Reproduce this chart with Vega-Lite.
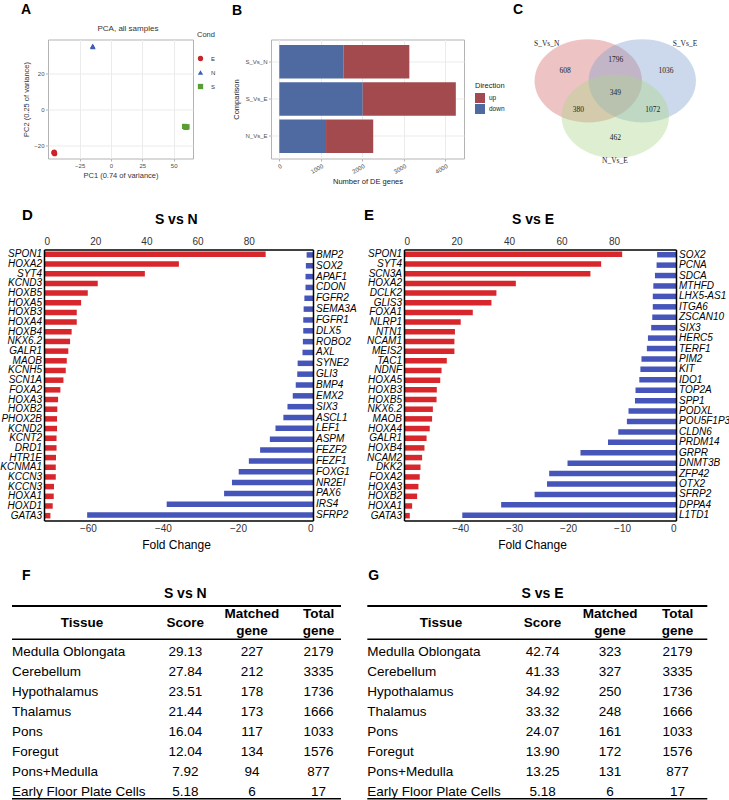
{
"$schema": "https://vega.github.io/schema/vega-lite/v6.json",
"background": "white",
"padding": {"left": 0, "top": 1.5, "right": 0, "bottom": 0},
"config": {"view": {"stroke": null}, "font": "Liberation Sans", "title": {"font": "Liberation Sans"}},
"datasets": {
 "pca": [
  {"sample":"E1","Cond":"E","PC1":-45.6,"PC2":-24.2},
  {"sample":"E2","Cond":"E","PC1":-45.0,"PC2":-24.7},
  {"sample":"E3","Cond":"E","PC1":-45.3,"PC2":-23.9},
  {"sample":"N1","Cond":"N","PC1":-14.7,"PC2":34.9},
  {"sample":"N2","Cond":"N","PC1":-14.4,"PC2":34.6},
  {"sample":"N3","Cond":"N","PC1":-14.6,"PC2":35.1},
  {"sample":"S1","Cond":"S","PC1":58.7,"PC2":-9.6},
  {"sample":"S2","Cond":"S","PC1":59.8,"PC2":-10.1},
  {"sample":"S3","Cond":"S","PC1":60.6,"PC2":-9.8}
 ],
 "de": [
  {"comparison":"S_Vs_N","direction":"down","count":1542},
  {"comparison":"S_Vs_N","direction":"up","count":1591},
  {"comparison":"S_Vs_E","direction":"down","count":2010},
  {"comparison":"S_Vs_E","direction":"up","count":2243},
  {"comparison":"N_Vs_E","direction":"down","count":1126},
  {"comparison":"N_Vs_E","direction":"up","count":1137}
 ],
 "venn_sets": [
  {"set":"S_Vs_N","cx":0,"cy":0,"lx":-0.77,"ly":0.685},
  {"set":"S_Vs_E","cx":1,"cy":0,"lx":1.791,"ly":0.685},
  {"set":"N_Vs_E","cx":0.5,"cy":-0.661,"lx":0.494,"ly":-1.494}
 ],
 "venn_regions": [
  {"region":"S_Vs_N only","count":608,"x":-0.431,"y":0.185},
  {"region":"S_Vs_N & S_Vs_E","count":1796,"x":0.507,"y":0.389},
  {"region":"S_Vs_E only","count":1036,"x":1.439,"y":0.185},
  {"region":"all three","count":349,"x":0.5,"y":-0.217},
  {"region":"S_Vs_N & N_Vs_E","count":380,"x":-0.185,"y":-0.537},
  {"region":"S_Vs_E & N_Vs_E","count":1072,"x":1.193,"y":-0.537},
  {"region":"N_Vs_E only","count":462,"x":0.5,"y":-1.063}
 ],
 "d_up": [
  {"rank":1,"gene":"SPON1","fc":86.6},{"rank":2,"gene":"HOXA2","fc":52.7},{"rank":3,"gene":"SYT4","fc":39.4},
  {"rank":4,"gene":"KCND3","fc":21.0},{"rank":5,"gene":"HOXB5","fc":17.1},{"rank":6,"gene":"HOXA5","fc":14.5},
  {"rank":7,"gene":"HOXB3","fc":12.8},{"rank":8,"gene":"HOXA4","fc":12.8},{"rank":9,"gene":"HOXB4","fc":10.8},
  {"rank":10,"gene":"NKX6.2","fc":10.2},{"rank":11,"gene":"GALR1","fc":9.5},{"rank":12,"gene":"MAOB","fc":8.9},
  {"rank":13,"gene":"KCNH5","fc":8.5},{"rank":14,"gene":"SCN1A","fc":7.6},{"rank":15,"gene":"FOXA2","fc":6.4},
  {"rank":16,"gene":"HOXA3","fc":5.5},{"rank":17,"gene":"HOXB2","fc":5.2},{"rank":18,"gene":"PHOX2B","fc":5.1},
  {"rank":19,"gene":"KCND2","fc":5.1},{"rank":20,"gene":"KCNT2","fc":4.9},{"rank":21,"gene":"DRD1","fc":4.9},
  {"rank":22,"gene":"HTR1E","fc":4.7},{"rank":23,"gene":"KCNMA1","fc":4.6},{"rank":24,"gene":"KCCN3","fc":4.6},
  {"rank":25,"gene":"KCCN3","fc":3.9},{"rank":26,"gene":"HOXA1","fc":3.8},{"rank":27,"gene":"HOXD1","fc":3.4},
  {"rank":28,"gene":"GATA3","fc":2.5}
 ],
 "d_down": [
  {"rank":1,"gene":"BMP2","fc":-1.7},{"rank":2,"gene":"SOX2","fc":-1.9},{"rank":3,"gene":"APAF1","fc":-2.0},
  {"rank":4,"gene":"CDON","fc":-2.0},{"rank":5,"gene":"FGFR2","fc":-2.3},{"rank":6,"gene":"SEMA3A","fc":-2.5},
  {"rank":7,"gene":"FGFR1","fc":-2.6},{"rank":8,"gene":"DLX5","fc":-2.6},{"rank":9,"gene":"ROBO2","fc":-2.7},
  {"rank":10,"gene":"AXL","fc":-2.8},{"rank":11,"gene":"SYNE2","fc":-4.1},{"rank":12,"gene":"GLI3","fc":-4.2},
  {"rank":13,"gene":"BMP4","fc":-4.6},{"rank":14,"gene":"EMX2","fc":-5.4},{"rank":15,"gene":"SIX3","fc":-6.8},
  {"rank":16,"gene":"ASCL1","fc":-7.9},{"rank":17,"gene":"LEF1","fc":-10.0},{"rank":18,"gene":"ASPM","fc":-11.5},
  {"rank":19,"gene":"FEZF2","fc":-14.1},{"rank":20,"gene":"FEZF1","fc":-17.1},{"rank":21,"gene":"FOXG1","fc":-19.8},
  {"rank":22,"gene":"NR2EI","fc":-21.6},{"rank":23,"gene":"PAX6","fc":-23.7},{"rank":24,"gene":"IRS4","fc":-39.0},
  {"rank":25,"gene":"SFRP2","fc":-60.2}
 ],
 "e_up": [
  {"rank":1,"gene":"SPON1","fc":83.1},{"rank":2,"gene":"SYT4","fc":75.1},{"rank":3,"gene":"SCN3A","fc":71.0},
  {"rank":4,"gene":"HOXA2","fc":42.6},{"rank":5,"gene":"DCLK2","fc":35.2},{"rank":6,"gene":"GLIS3","fc":33.3},
  {"rank":7,"gene":"FOXA1","fc":26.2},{"rank":8,"gene":"NLRP1","fc":21.6},{"rank":9,"gene":"NTN1","fc":19.4},
  {"rank":10,"gene":"NCAM1","fc":19.2},{"rank":11,"gene":"MEIS2","fc":19.2},{"rank":12,"gene":"TAC1","fc":16.3},
  {"rank":13,"gene":"NDNF","fc":14.3},{"rank":14,"gene":"HOXA5","fc":13.8},{"rank":15,"gene":"HOXB3","fc":12.5},
  {"rank":16,"gene":"HOXB5","fc":12.4},{"rank":17,"gene":"NKX6.2","fc":11.0},{"rank":18,"gene":"MAOB","fc":10.7},
  {"rank":19,"gene":"HOXA4","fc":9.8},{"rank":20,"gene":"GALR1","fc":8.6},{"rank":21,"gene":"HOXB4","fc":7.8},
  {"rank":22,"gene":"NCAM2","fc":6.9},{"rank":23,"gene":"DKK2","fc":6.3},{"rank":24,"gene":"FOXA2","fc":6.0},
  {"rank":25,"gene":"HOXA3","fc":5.5},{"rank":26,"gene":"HOXB2","fc":5.0},{"rank":27,"gene":"HOXA1","fc":3.1},
  {"rank":28,"gene":"GATA3","fc":2.2}
 ],
 "e_down": [
  {"rank":1,"gene":"SOX2","fc":-3.5},{"rank":2,"gene":"PCNA","fc":-3.6},{"rank":3,"gene":"SDCA","fc":-3.9},
  {"rank":4,"gene":"MTHFD","fc":-4.2},{"rank":5,"gene":"LHX5-AS1","fc":-4.3},{"rank":6,"gene":"ITGA6","fc":-4.3},
  {"rank":7,"gene":"ZSCAN10","fc":-4.4},{"rank":8,"gene":"SIX3","fc":-4.6},{"rank":9,"gene":"HERC5","fc":-5.2},
  {"rank":10,"gene":"TERF1","fc":-5.4},{"rank":11,"gene":"PIM2","fc":-6.4},{"rank":12,"gene":"KIT","fc":-6.6},
  {"rank":13,"gene":"IDO1","fc":-6.8},{"rank":14,"gene":"TOP2A","fc":-7.5},{"rank":15,"gene":"SPP1","fc":-7.6},
  {"rank":16,"gene":"PODXL","fc":-8.8},{"rank":17,"gene":"POU5F1P3","fc":-9.1},{"rank":18,"gene":"CLDN6","fc":-10.7},
  {"rank":19,"gene":"PRDM14","fc":-12.6},{"rank":20,"gene":"GRPR","fc":-17.7},{"rank":21,"gene":"DNMT3B","fc":-20.1},
  {"rank":22,"gene":"ZFP42","fc":-23.5},{"rank":23,"gene":"OTX2","fc":-23.9},{"rank":24,"gene":"SFRP2","fc":-26.2},
  {"rank":25,"gene":"DPPA4","fc":-32.4},{"rank":26,"gene":"L1TD1","fc":-39.6}
 ],
 "f_tab": [
  {"rank":0,"tissue":"Medulla Oblongata","score":29.13,"matched":227,"total":2179},
  {"rank":1,"tissue":"Cerebellum","score":27.84,"matched":212,"total":3335},
  {"rank":2,"tissue":"Hypothalamus","score":23.51,"matched":178,"total":1736},
  {"rank":3,"tissue":"Thalamus","score":21.44,"matched":173,"total":1666},
  {"rank":4,"tissue":"Pons","score":16.04,"matched":117,"total":1033},
  {"rank":5,"tissue":"Foregut","score":12.04,"matched":134,"total":1576},
  {"rank":6,"tissue":"Pons+Medulla","score":7.92,"matched":94,"total":877},
  {"rank":7,"tissue":"Early Floor Plate Cells","score":5.18,"matched":6,"total":17}
 ],
 "g_tab": [
  {"rank":0,"tissue":"Medulla Oblongata","score":42.74,"matched":323,"total":2179},
  {"rank":1,"tissue":"Cerebellum","score":41.33,"matched":327,"total":3335},
  {"rank":2,"tissue":"Hypothalamus","score":34.92,"matched":250,"total":1736},
  {"rank":3,"tissue":"Thalamus","score":33.32,"matched":248,"total":1666},
  {"rank":4,"tissue":"Pons","score":24.07,"matched":161,"total":1033},
  {"rank":5,"tissue":"Foregut","score":13.90,"matched":172,"total":1576},
  {"rank":6,"tissue":"Pons+Medulla","score":13.25,"matched":131,"total":877},
  {"rank":7,"tissue":"Early Floor Plate Cells","score":5.18,"matched":6,"total":17}
 ],
 "headers2": [
  {"col":"Matched","label":"Matched gene"},
  {"col":"Total","label":"Total gene"}
 ]
},
"spacing": 22,
"resolve": {"scale": {"color": "independent", "shape": "independent"}, "legend": {"color": "independent", "shape": "independent"}},
"vconcat": [
 {
  "spacing": 0, "bounds": "flush",
  "resolve": {"scale": {"color": "independent", "shape": "independent"}, "legend": {"color": "independent", "shape": "independent"}},
  "hconcat": [
   {"width": 48, "height": 10, "data": {"values": []}, "mark": "point", "encoding": {}},
   {
    "spacing": 78, "bounds": "flush",
    "resolve": {"scale": {"color": "independent", "shape": "independent"}, "legend": {"color": "independent", "shape": "independent"}},
    "hconcat": [
     {
      "width": 145, "height": 119,
      "view": {"stroke": "#b3b3b3", "strokeWidth": 1},
      "layer": [
       {
        "data": {"name": "pca"},
        "mark": {"type": "point", "filled": true, "size": 28, "opacity": 1},
        "encoding": {
         "x": {"field": "PC1", "type": "quantitative", "scale": {"domain": [-50.3, 65.4], "nice": false, "zero": false},
               "axis": {"values": [-25, 0, 25, 50], "title": "PC1 (0.74 of variance)", "grid": true, "gridColor": "#ebebeb", "domain": false, "tickColor": "#b3b3b3", "tickSize": 2.5, "labelFontSize": 6, "labelColor": "#4d4d4d", "labelPadding": 1.5, "titleFontSize": 7.5, "titleFontWeight": "normal", "titleColor": "#333333", "titlePadding": 3}},
         "y": {"field": "PC2", "type": "quantitative", "scale": {"domain": [-27.4, 38.7], "nice": false, "zero": false},
               "axis": {"values": [-20, 0, 20], "title": "PC2 (0.25 of variance)", "grid": true, "gridColor": "#ebebeb", "domain": false, "tickColor": "#b3b3b3", "tickSize": 2.5, "labelFontSize": 6, "labelColor": "#4d4d4d", "labelPadding": 1.5, "titleFontSize": 7.5, "titleFontWeight": "normal", "titleColor": "#333333", "titlePadding": 3}},
         "color": {"field": "Cond", "type": "nominal", "scale": {"domain": ["E", "N", "S"], "range": ["#cc2229", "#3d5fb4", "#5a9e33"]},
                   "legend": {"orient": "none", "legendX": 149, "legendY": -9, "title": "Cond", "titleFontSize": 7.5, "titleFontWeight": "normal", "titleColor": "#333333", "labelFontSize": 6, "labelColor": "#333333", "symbolSize": 28, "rowPadding": 7, "titlePadding": 17, "labelOffset": 7}},
         "shape": {"field": "Cond", "type": "nominal", "scale": {"domain": ["E", "N", "S"], "range": ["circle", "triangle-up", "square"]},
                   "legend": {"orient": "none", "legendX": 149, "legendY": -9, "title": "Cond", "titleFontSize": 7.5, "titleFontWeight": "normal", "titleColor": "#333333", "labelFontSize": 6, "labelColor": "#333333", "symbolSize": 28, "rowPadding": 7, "titlePadding": 17, "labelOffset": 7}}
        }
       },
       {
        "data": {"values": [{"label": "PCA, all samples"}]},
        "mark": {"type": "text", "fontSize": 8, "color": "#333333"},
        "encoding": {"x": {"datum": 13.5, "type": "quantitative"}, "y": {"datum": 44.8, "type": "quantitative"}, "text": {"field": "label"}}
       },
       {
        "data": {"values": [{"label": "A"}]},
        "mark": {"type": "text", "fontSize": 14, "fontWeight": "bold", "color": "black"},
        "encoding": {"x": {"datum": -67.8, "type": "quantitative"}, "y": {"datum": 55.1, "type": "quantitative"}, "text": {"field": "label"}}
       }
      ]
     },
     {
      "width": 193, "height": 119,
      "view": {"stroke": "#b3b3b3", "strokeWidth": 1},
      "title": {"text": "B", "anchor": "start", "frame": "group", "dx": -39, "fontSize": 14, "fontWeight": "bold", "color": "black", "offset": 21.3},
      "data": {"name": "de"},
      "mark": {"type": "bar"},
      "encoding": {
       "y": {"field": "comparison", "type": "nominal", "sort": ["S_Vs_N", "S_Vs_E", "N_Vs_E"], "scale": {"paddingInner": 0.1, "paddingOuter": 0.15},
             "axis": {"title": "Comparison", "grid": true, "gridColor": "#ebebeb", "bandPosition": 0.5, "domain": false, "tickColor": "#b3b3b3", "tickSize": 2.5, "labelFontSize": 6, "labelColor": "#4d4d4d", "labelPadding": 1.5, "titleFontSize": 7.5, "titleFontWeight": "normal", "titleColor": "#222222", "titlePadding": 4}},
       "x": {"field": "count", "type": "quantitative", "stack": "zero", "scale": {"domain": [-200, 4450], "nice": false},
             "axis": {"values": [0, 1000, 2000, 3000, 4000], "format": "d", "labelAngle": -30, "title": "Number of DE genes", "grid": true, "gridColor": "#ebebeb", "domain": false, "tickColor": "#b3b3b3", "tickSize": 2.5, "labelFontSize": 6, "labelColor": "#4d4d4d", "labelPadding": 1.5, "titleFontSize": 7.5, "titleFontWeight": "normal", "titleColor": "#222222", "titlePadding": 3}},
       "color": {"field": "direction", "type": "nominal", "scale": {"domain": ["up", "down"], "range": ["#a34a4e", "#4f6aa1"]},
                 "legend": {"orient": "none", "legendX": 204, "legendY": 42, "title": "Direction", "symbolType": "square", "symbolSize": 100, "symbolStrokeWidth": 0, "rowPadding": 1, "titlePadding": 4, "labelFontSize": 6.5, "labelColor": "#222222", "titleFontSize": 7.5, "titleFontWeight": "normal", "titleColor": "#222222"}},
       "order": {"field": "direction", "sort": "ascending"}
      }
     },
     {
      "width": 187, "height": 119,
      "layer": [
       {
        "data": {"name": "venn_sets"},
        "mark": {"type": "point", "shape": "M-1,0C-1,-0.4286,-0.5523,-0.776,0,-0.776C0.5523,-0.776,1,-0.4286,1,0C1,0.4286,0.5523,0.776,0,0.776C-0.5523,0.776,-1,0.4286,-1,0Z", "size": 11535, "filled": true, "fillOpacity": 0.4, "strokeWidth": 0},
        "encoding": {
         "x": {"field": "cx", "type": "quantitative", "scale": {"domain": [-0.857, 2.606], "nice": false, "zero": false}, "axis": null},
         "y": {"field": "cy", "type": "quantitative", "scale": {"domain": [-1.439, 0.765], "nice": false, "zero": false}, "axis": null},
         "color": {"field": "set", "type": "nominal", "scale": {"domain": ["S_Vs_N", "S_Vs_E", "N_Vs_E"], "range": ["#d46a6a", "#7f9fd0", "#a9d68a"]}, "legend": null}
        }
       },
       {
        "data": {"name": "venn_sets"},
        "mark": {"type": "text", "font": "Liberation Serif", "fontSize": 7.5, "color": "#222222"},
        "encoding": {"x": {"field": "lx", "type": "quantitative"}, "y": {"field": "ly", "type": "quantitative"}, "text": {"field": "set"}}
       },
       {
        "data": {"name": "venn_regions"},
        "mark": {"type": "text", "font": "Liberation Serif", "fontSize": 7.5, "color": "#222222"},
        "encoding": {"x": {"field": "x", "type": "quantitative"}, "y": {"field": "y", "type": "quantitative"}, "text": {"field": "count"}}
       },
       {
        "data": {"values": [{"label": "C"}]},
        "mark": {"type": "text", "fontSize": 14, "fontWeight": "bold", "color": "black"},
        "encoding": {"x": {"datum": -1.302, "type": "quantitative"}, "y": {"datum": 1.311, "type": "quantitative"}, "text": {"field": "label"}}
       }
      ]
     }
    ]
   }
  ]
 },
 {
  "spacing": 17.5,
  "vconcat": [
   {
    "spacing": 0, "bounds": "flush",
    "hconcat": [
     {"width": 44, "height": 10, "data": {"values": []}, "mark": "point", "encoding": {}},
     {
      "spacing": 91, "bounds": "flush",
      "hconcat": [
       {
        "width": 269, "height": 271,
        "title": {"text": "D", "anchor": "start", "frame": "group", "dx": -22, "dy": 14, "fontSize": 15, "fontWeight": "bold", "color": "black"},
        "layer": [
         {
          "data": {"name": "d_up"},
          "layer": [
           {
            "mark": {"type": "bar", "size": 5.5, "color": "#d7262c"},
            "encoding": {
             "x": {"field": "fc", "type": "quantitative", "scale": {"domain": [0, 105.1], "nice": false},
                   "axis": {"orient": "top", "values": [0, 20, 40, 60, 80], "title": "S vs N", "titleX": 131.8, "titleFontSize": 14, "titleFontWeight": "bold", "titleColor": "black", "titlePadding": 10, "grid": false, "ticks": false, "domainColor": "black", "domainWidth": 1.5, "labelFontSize": 10, "labelColor": "#333333", "labelPadding": 3, "zindex": 1}},
             "y": {"field": "rank", "type": "ordinal", "scale": {"paddingInner": 0, "paddingOuter": 0},
                   "axis": {"orient": "left", "labels": false, "ticks": false, "title": null, "grid": false, "domainColor": "black", "domainWidth": 1.5, "zindex": 1}}
            }
           },
           {
            "mark": {"type": "text", "align": "right", "dx": -2, "fontStyle": "italic", "fontSize": 10, "color": "black"},
            "encoding": {"x": {"datum": 0, "type": "quantitative"}, "y": {"field": "rank", "type": "ordinal"}, "text": {"field": "gene"}}
           }
          ]
         },
         {
          "data": {"name": "d_down"},
          "layer": [
           {
            "mark": {"type": "bar", "size": 5.5, "color": "#4655b9"},
            "encoding": {
             "x": {"field": "fc", "type": "quantitative", "scale": {"domain": [-71.7, 0], "nice": false},
                   "axis": {"orient": "bottom", "values": [-60, -40, -20, 0], "title": "Fold Change", "titleX": 132, "titleFontSize": 12, "titleFontWeight": "normal", "titleColor": "black", "titlePadding": 6, "grid": false, "ticks": false, "domainColor": "black", "domainWidth": 1.5, "labelFontSize": 10, "labelColor": "#333333", "labelPadding": 3, "zindex": 1}},
             "y": {"field": "rank", "type": "ordinal", "scale": {"paddingInner": 0, "paddingOuter": 0},
                   "axis": {"orient": "right", "labels": false, "ticks": false, "title": null, "grid": false, "domainColor": "black", "domainWidth": 1.5, "zindex": 1}}
            }
           },
           {
            "mark": {"type": "text", "align": "left", "dx": 3, "fontStyle": "italic", "fontSize": 10, "color": "black"},
            "encoding": {"x": {"datum": 0, "type": "quantitative"}, "y": {"field": "rank", "type": "ordinal"}, "text": {"field": "gene"}}
           }
          ]
         }
        ],
        "resolve": {"scale": {"x": "independent", "y": "independent"}}
       },
       {
        "width": 272, "height": 271,
        "title": {"text": "E", "anchor": "start", "frame": "group", "dx": -40, "dy": 14, "fontSize": 15, "fontWeight": "bold", "color": "black"},
        "layer": [
         {
          "data": {"name": "e_up"},
          "layer": [
           {
            "mark": {"type": "bar", "size": 5.5, "color": "#d7262c"},
            "encoding": {
             "x": {"field": "fc", "type": "quantitative", "scale": {"domain": [0, 103.6], "nice": false},
                   "axis": {"orient": "top", "values": [0, 20, 40, 60, 80], "title": "S vs E", "titleX": 128.5, "titleFontSize": 14, "titleFontWeight": "bold", "titleColor": "black", "titlePadding": 10, "grid": false, "ticks": false, "domainColor": "black", "domainWidth": 1.5, "labelFontSize": 10, "labelColor": "#333333", "labelPadding": 3, "zindex": 1}},
             "y": {"field": "rank", "type": "ordinal", "scale": {"paddingInner": 0, "paddingOuter": 0},
                   "axis": {"orient": "left", "labels": false, "ticks": false, "title": null, "grid": false, "domainColor": "black", "domainWidth": 1.5, "zindex": 1}}
            }
           },
           {
            "mark": {"type": "text", "align": "right", "dx": -2, "fontStyle": "italic", "fontSize": 10, "color": "black"},
            "encoding": {"x": {"datum": 0, "type": "quantitative"}, "y": {"field": "rank", "type": "ordinal"}, "text": {"field": "gene"}}
           }
          ]
         },
         {
          "data": {"name": "e_down"},
          "layer": [
           {
            "mark": {"type": "bar", "size": 5.5, "color": "#4655b9"},
            "encoding": {
             "x": {"field": "fc", "type": "quantitative", "scale": {"domain": [-50.4, 0], "nice": false},
                   "axis": {"orient": "bottom", "values": [-40, -30, -20, -10, 0], "title": "Fold Change", "titleX": 128, "titleFontSize": 12, "titleFontWeight": "normal", "titleColor": "black", "titlePadding": 6, "grid": false, "ticks": false, "domainColor": "black", "domainWidth": 1.5, "labelFontSize": 10, "labelColor": "#333333", "labelPadding": 3, "zindex": 1}},
             "y": {"field": "rank", "type": "ordinal", "scale": {"paddingInner": 0, "paddingOuter": 0},
                   "axis": {"orient": "right", "labels": false, "ticks": false, "title": null, "grid": false, "domainColor": "black", "domainWidth": 1.5, "zindex": 1}}
            }
           },
           {
            "mark": {"type": "text", "align": "left", "dx": 3, "fontStyle": "italic", "fontSize": 10, "color": "black"},
            "encoding": {"x": {"datum": 0, "type": "quantitative"}, "y": {"field": "rank", "type": "ordinal"}, "text": {"field": "gene"}}
           }
          ]
         }
        ],
        "resolve": {"scale": {"x": "independent", "y": "independent"}}
       }
      ]
     }
    ]
   },
   {
    "spacing": 0, "bounds": "flush",
    "hconcat": [
     {"width": 11.7, "height": 10, "data": {"values": []}, "mark": "point", "encoding": {}},
     {
      "spacing": 26.3, "bounds": "flush",
      "hconcat": [
       {
        "width": 329, "height": 192,
        "layer": [
         {
          "layer": [
           {
            "data": {"name": "f_tab"},
            "mark": {"type": "text", "fontSize": 13.5, "color": "black"},
            "encoding": {
             "x": {"datum": "Score", "type": "nominal", "scale": {"domain": ["Score", "Matched", "Total"], "range": [173.3, 306.6], "padding": 0}, "axis": null},
             "y": {"field": "rank", "type": "quantitative", "scale": {"domain": [-2.135, 7.465], "reverse": true, "nice": false, "zero": false}, "axis": null},
             "text": {"field": "score", "format": ".2f"}
            }
           },
           {
            "data": {"name": "f_tab"},
            "mark": {"type": "text", "fontSize": 13.5, "color": "black"},
            "encoding": {"x": {"datum": "Matched", "type": "nominal"}, "y": {"field": "rank", "type": "quantitative"}, "text": {"field": "matched"}}
           },
           {
            "data": {"name": "f_tab"},
            "mark": {"type": "text", "fontSize": 13.5, "color": "black"},
            "encoding": {"x": {"datum": "Total", "type": "nominal"}, "y": {"field": "rank", "type": "quantitative"}, "text": {"field": "total"}}
           },
           {
            "data": {"values": [{"label": "Score"}]},
            "mark": {"type": "text", "fontSize": 13.5, "fontWeight": "bold", "color": "black"},
            "encoding": {"x": {"datum": "Score", "type": "nominal"}, "y": {"datum": -1.45, "type": "quantitative"}, "text": {"field": "label"}}
           },
           {
            "data": {"name": "headers2"},
            "mark": {"type": "text", "fontSize": 13.5, "fontWeight": "bold", "color": "black", "lineBreak": " ", "lineHeight": 16.7},
            "encoding": {"x": {"field": "col", "type": "nominal"}, "y": {"datum": -1.87, "type": "quantitative"}, "text": {"field": "label"}}
           },
           {
            "data": {"values": [{"label": "S vs N"}]},
            "mark": {"type": "text", "fontSize": 14, "fontWeight": "bold", "color": "black"},
            "encoding": {"x": {"datum": "Score", "type": "nominal"}, "y": {"datum": -2.87, "type": "quantitative"}, "text": {"field": "label"}}
           }
          ]
         },
         {
          "layer": [
           {
            "data": {"name": "f_tab"},
            "mark": {"type": "text", "align": "left", "fontSize": 13.5, "color": "black"},
            "encoding": {
             "x": {"datum": "Tissue", "type": "nominal", "scale": {"domain": ["Tissue"], "padding": 0, "align": 0}, "axis": null},
             "y": {"field": "rank", "type": "quantitative"},
             "text": {"field": "tissue"}
            }
           },
           {
            "data": {"values": [{"label": "Tissue"}]},
            "mark": {"type": "text", "align": "center", "dx": 70, "fontSize": 13.5, "fontWeight": "bold", "color": "black"},
            "encoding": {"x": {"datum": "Tissue", "type": "nominal"}, "y": {"datum": -1.45, "type": "quantitative"}, "text": {"field": "label"}}
           },
           {
            "data": {"values": [{"label": "F"}]},
            "mark": {"type": "text", "align": "left", "dx": 10, "fontSize": 14, "fontWeight": "bold", "color": "black"},
            "encoding": {"x": {"datum": "Tissue", "type": "nominal"}, "y": {"datum": -3.785, "type": "quantitative"}, "text": {"field": "label"}}
           }
          ]
         },
         {"data": {"values": [{}]}, "mark": {"type": "rule", "color": "black", "strokeWidth": 2}, "encoding": {"y": {"datum": -2.285, "type": "quantitative"}}},
         {"data": {"values": [{}]}, "mark": {"type": "rule", "color": "black", "strokeWidth": 1.5}, "encoding": {"y": {"datum": -0.62, "type": "quantitative"}}},
         {"data": {"values": [{}]}, "mark": {"type": "rule", "color": "black", "strokeWidth": 1.5}, "encoding": {"y": {"datum": 7.35, "type": "quantitative"}}}
        ],
        "resolve": {"scale": {"x": "independent"}}
       },
       {
        "width": 340, "height": 192,
        "layer": [
         {
          "layer": [
           {
            "data": {"name": "g_tab"},
            "mark": {"type": "text", "fontSize": 13.5, "color": "black"},
            "encoding": {
             "x": {"datum": "Score", "type": "nominal", "scale": {"domain": ["Score", "Matched", "Total"], "range": [175.3, 310.3], "padding": 0}, "axis": null},
             "y": {"field": "rank", "type": "quantitative", "scale": {"domain": [-2.135, 7.465], "reverse": true, "nice": false, "zero": false}, "axis": null},
             "text": {"field": "score", "format": ".2f"}
            }
           },
           {
            "data": {"name": "g_tab"},
            "mark": {"type": "text", "fontSize": 13.5, "color": "black"},
            "encoding": {"x": {"datum": "Matched", "type": "nominal"}, "y": {"field": "rank", "type": "quantitative"}, "text": {"field": "matched"}}
           },
           {
            "data": {"name": "g_tab"},
            "mark": {"type": "text", "fontSize": 13.5, "color": "black"},
            "encoding": {"x": {"datum": "Total", "type": "nominal"}, "y": {"field": "rank", "type": "quantitative"}, "text": {"field": "total"}}
           },
           {
            "data": {"values": [{"label": "Score"}]},
            "mark": {"type": "text", "fontSize": 13.5, "fontWeight": "bold", "color": "black"},
            "encoding": {"x": {"datum": "Score", "type": "nominal"}, "y": {"datum": -1.45, "type": "quantitative"}, "text": {"field": "label"}}
           },
           {
            "data": {"name": "headers2"},
            "mark": {"type": "text", "fontSize": 13.5, "fontWeight": "bold", "color": "black", "lineBreak": " ", "lineHeight": 16.7},
            "encoding": {"x": {"field": "col", "type": "nominal"}, "y": {"datum": -1.87, "type": "quantitative"}, "text": {"field": "label"}}
           },
           {
            "data": {"values": [{"label": "S vs E"}]},
            "mark": {"type": "text", "fontSize": 14, "fontWeight": "bold", "color": "black"},
            "encoding": {"x": {"datum": "Score", "type": "nominal"}, "y": {"datum": -2.87, "type": "quantitative"}, "text": {"field": "label"}}
           }
          ]
         },
         {
          "layer": [
           {
            "data": {"name": "g_tab"},
            "mark": {"type": "text", "align": "left", "fontSize": 13.5, "color": "black"},
            "encoding": {
             "x": {"datum": "Tissue", "type": "nominal", "scale": {"domain": ["Tissue"], "padding": 0, "align": 0}, "axis": null},
             "y": {"field": "rank", "type": "quantitative"},
             "text": {"field": "tissue"}
            }
           },
           {
            "data": {"values": [{"label": "Tissue"}]},
            "mark": {"type": "text", "align": "center", "dx": 73.7, "fontSize": 13.5, "fontWeight": "bold", "color": "black"},
            "encoding": {"x": {"datum": "Tissue", "type": "nominal"}, "y": {"datum": -1.45, "type": "quantitative"}, "text": {"field": "label"}}
           },
           {
            "data": {"values": [{"label": "G"}]},
            "mark": {"type": "text", "align": "left", "dx": 1, "fontSize": 14, "fontWeight": "bold", "color": "black"},
            "encoding": {"x": {"datum": "Tissue", "type": "nominal"}, "y": {"datum": -3.785, "type": "quantitative"}, "text": {"field": "label"}}
           }
          ]
         },
         {"data": {"values": [{}]}, "mark": {"type": "rule", "color": "black", "strokeWidth": 2}, "encoding": {"y": {"datum": -2.285, "type": "quantitative"}}},
         {"data": {"values": [{}]}, "mark": {"type": "rule", "color": "black", "strokeWidth": 1.5}, "encoding": {"y": {"datum": -0.62, "type": "quantitative"}}},
         {"data": {"values": [{}]}, "mark": {"type": "rule", "color": "black", "strokeWidth": 1.5}, "encoding": {"y": {"datum": 7.35, "type": "quantitative"}}}
        ],
        "resolve": {"scale": {"x": "independent"}}
       }
      ]
     }
    ]
   }
  ]
 }
]
}
